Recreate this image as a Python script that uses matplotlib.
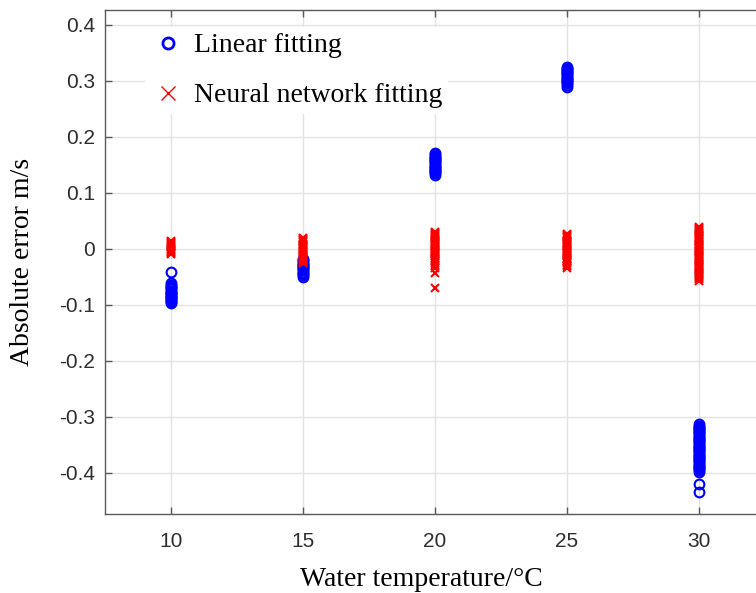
import numpy as np
import matplotlib.pyplot as plt

# water temperatures (degC)
temps = [10, 15, 20, 25, 30]

# absolute error of the linear fit at each temperature (m/s)
linear_10 = [-0.041, -0.062, -0.065, -0.067, -0.069, -0.071, -0.073, -0.075,
             -0.077, -0.079, -0.080, -0.082, -0.084, -0.085, -0.087, -0.089,
             -0.090, -0.092, -0.094, -0.096, -0.098]
linear_15 = [-0.019, -0.021, -0.023, -0.025, -0.027, -0.029, -0.031, -0.033,
             -0.035, -0.037, -0.039, -0.041, -0.043, -0.045, -0.047, -0.051]
linear_20 = [0.170, 0.168, 0.166, 0.164, 0.162, 0.160, 0.158, 0.156, 0.154,
             0.152, 0.150, 0.148, 0.146, 0.144, 0.142, 0.140, 0.138, 0.136,
             0.134, 0.131]
linear_25 = [0.325, 0.323, 0.321, 0.319, 0.317, 0.315, 0.313, 0.311, 0.309,
             0.307, 0.305, 0.303, 0.301, 0.299, 0.297, 0.295, 0.292, 0.288]
linear_30 = [-0.314, -0.316, -0.318, -0.320, -0.322, -0.324, -0.326, -0.328,
             -0.330, -0.332, -0.334, -0.336, -0.338, -0.340, -0.342, -0.344,
             -0.346, -0.348, -0.350, -0.352, -0.354, -0.356, -0.358, -0.360,
             -0.362, -0.364, -0.366, -0.368, -0.370, -0.372, -0.374, -0.376,
             -0.378, -0.380, -0.382, -0.384, -0.386, -0.388, -0.390, -0.392,
             -0.394, -0.396, -0.399, -0.420, -0.435]

# absolute error of the neural network fit (m/s)
nn_10 = [-0.010, -0.008, -0.006, -0.004, -0.002, 0.000, 0.002, 0.004, 0.006,
         0.008, 0.010, 0.012, 0.013]
nn_15 = [0.019, 0.017, 0.015, 0.013, 0.011, 0.009, 0.007, 0.005, 0.003,
         0.001, -0.001, -0.003, -0.005, -0.007, -0.009, -0.011, -0.013,
         -0.015, -0.017, -0.019, -0.021, -0.023, -0.025]
nn_20 = [0.030, 0.028, 0.026, 0.024, 0.022, 0.020, 0.018, 0.016, 0.014,
         0.012, 0.010, 0.008, 0.006, 0.004, 0.002, 0.000, -0.002, -0.004,
         -0.006, -0.008, -0.010, -0.012, -0.014, -0.016, -0.018, -0.020,
         -0.022, -0.025, -0.030, -0.035, -0.044, -0.071]
nn_25 = [0.026, 0.024, 0.022, 0.020, 0.018, 0.016, 0.014, 0.012, 0.010,
         0.008, 0.006, 0.004, 0.002, 0.000, -0.002, -0.004, -0.006, -0.008,
         -0.010, -0.012, -0.014, -0.016, -0.018, -0.020, -0.022, -0.024,
         -0.026, -0.029, -0.032, -0.035]
nn_30 = [0.039, 0.037, 0.035, 0.033, 0.031, 0.029, 0.027, 0.025, 0.023,
         0.021, 0.019, 0.017, 0.015, 0.013, 0.011, 0.009, 0.007, 0.005,
         0.003, 0.001, -0.001, -0.003, -0.005, -0.007, -0.009, -0.011,
         -0.013, -0.015, -0.017, -0.019, -0.021, -0.023, -0.025, -0.027,
         -0.029, -0.031, -0.033, -0.035, -0.037, -0.039, -0.041, -0.043,
         -0.045, -0.047, -0.049, -0.051, -0.053, -0.055, -0.058]

linear = [linear_10, linear_15, linear_20, linear_25, linear_30]
nn = [nn_10, nn_15, nn_20, nn_25, nn_30]

xticks = [10, 15, 20, 25, 30]
yticks = [-0.4, -0.3, -0.2, -0.1, 0, 0.1, 0.2, 0.3, 0.4]
ylabels = ['-0.4', '-0.3', '-0.2', '-0.1', '0', '0.1', '0.2', '0.3', '0.4']

axcol = '#5a5a5a'
serif = 'Liberation Serif'

fig = plt.figure(figsize=(7.56, 5.93), dpi=100)
# axes run past the right edge of the figure
ax = fig.add_axes([0.1389, 0.1332, 0.873, 0.85])

def stack(groups):
    xs = np.concatenate([[t] * len(g) for t, g in zip(temps, groups)])
    ys = np.concatenate(groups)
    return xs, ys

xl, yl = stack(linear)
xn, yn = stack(nn)
ax.plot(xl, yl, 'o', color='blue', mfc='none', ms=7, mew=1.5,
        label='Linear fitting')
ax.plot(xn, yn, 'x', color='red', ms=6, mew=1.5,
        label='Neural network fitting')

ax.set_xlim(7.5, 32.5)
ax.set_ylim(-0.474, 0.426)
ax.set_xticks(xticks)
ax.set_yticks(yticks)
ax.set_yticklabels(ylabels)

ax.grid(True, color='#e3e3e3', lw=1)
ax.set_axisbelow(True)
for s in ax.spines.values():
    s.set_color(axcol)
    s.set_linewidth(1.0)
ax.tick_params(direction='in', length=5, width=1, color=axcol,
               labelcolor='#2e2e2e', labelsize=15, top=True, right=True)
ax.tick_params(axis='x', pad=13)
ax.tick_params(axis='y', pad=7)
for lab in ax.get_xticklabels() + ax.get_yticklabels():
    lab.set_family('Liberation Sans')

ax.set_xlabel('Water temperature/°C', family=serif, fontsize=20)
ax.set_ylabel('Absolute error m/s', family=serif, fontsize=20)
ax.xaxis.set_label_coords(0.48, -0.13)
ax.xaxis.label.set_va('center')
ax.yaxis.set_label_coords(-0.125, 0.5)
ax.yaxis.label.set_va('center')

leg = ax.legend(loc='upper left', bbox_to_anchor=(0.04, 0.993),
                prop={'family': serif, 'size': 20}, frameon=True,
                facecolor='white', edgecolor='none', framealpha=1,
                handletextpad=0.35, handlelength=1.2, labelspacing=0.88,
                borderpad=0.2)
# bigger markers in the legend key
h_lin, h_nn = leg.legend_handles
h_lin.set_markersize(8)
h_lin.set_markeredgewidth(2.0)
h_nn.set_markersize(10)
h_nn.set_markeredgewidth(1.0)

fig.savefig('out.png', dpi=100)
